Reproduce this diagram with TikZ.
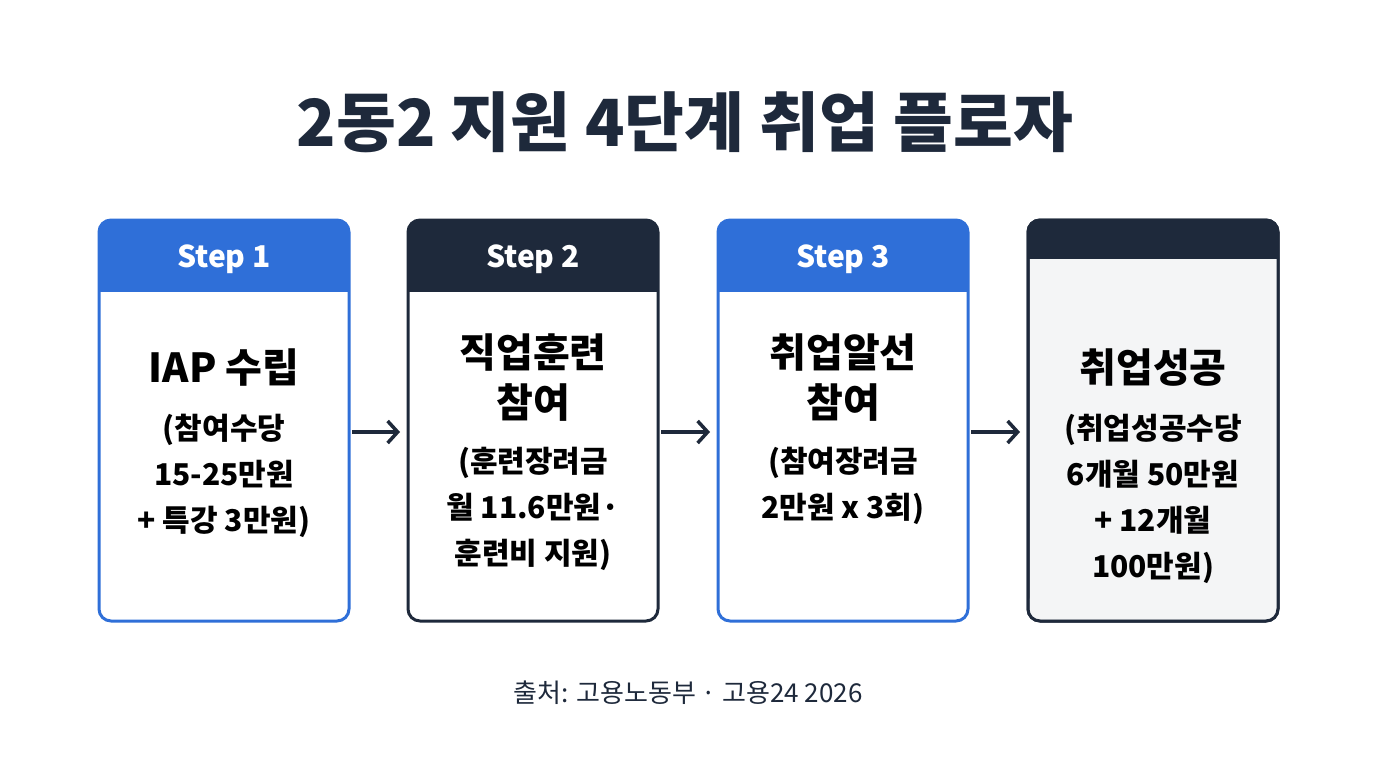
\documentclass[tikz,border=0pt]{standalone}
\usepackage{fontspec}
\setmainfont{Noto Sans CJK KR}
\usetikzlibrary{positioning,arrows.meta}
\definecolor{stepblue}{HTML}{2F6FD8}
\definecolor{stepdark}{HTML}{1E293B}
\definecolor{bodygray}{HTML}{F4F5F6}
\begin{document}
\begin{tikzpicture}[x=1pt,y=-1pt]
\tikzstyle{card}=[rounded corners=12pt, line width=3pt]
\tikzstyle{head}=[font=\fontsize{30}{30}\selectfont\bfseries, text=white]
\tikzstyle{main}=[font=\fontsize{40}{50}\selectfont\bfseries, text=black, align=center]
\tikzstyle{sub}=[font=\fontsize{30}{46}\selectfont\bfseries, text=black, align=center]
\tikzstyle{connect}=[-{Straight Barb[length=10pt,width=22pt,line width=3.5pt]}, line width=3.5pt, stepdark]
\useasboundingbox (0,0) rectangle (1376,768);
\fill[white] (0,0) rectangle (1376,768);
\node[font=\fontsize{65}{65}\selectfont\bfseries, text=stepdark] (title) at (685,122) {2동2 지원 4단계 취업 플로자};
% cards
\foreach \n/\x/\c/\h in {1/99/stepblue/292, 2/408/stepdark/292, 3/718/stepblue/292, 4/1028/stepdark/257}{
  \begin{scope}
  \clip[rounded corners=12pt] (\x,220) rectangle ++(250,401);
  \fill[\c] (\x,220) rectangle ++(250,\h-220);
  \end{scope}
  \draw[card, \c] (\x,220) rectangle ++(250,401);
  \coordinate (s\n) at (\x+125,259);
}
\fill[bodygray] (1029.5,257) rectangle (1276.5,608);
\fill[bodygray, rounded corners=10pt] (1029.5,590) rectangle (1276.5,619.5);
\draw[card, stepdark] (1028,220) rectangle ++(250,401);
\draw[stepdark, line width=3pt] (1028,257) -- (1278,257);
\node[head] (h1) at (s1) {Step 1};
\node[head] (h2) at (s2) {Step 2};
\node[head] (h3) at (s3) {Step 3};
% texts
\node[main] (m1) at (224,368) {IAP 수립};
\node[sub, below=20pt of m1] (t1) {(참여수당\\15-25만원\\+ 특강 3만원)};
\node[main] (m2) at (533,378) {직업훈련\\참여};
\node[sub, below=18pt of m2] (t2) {(훈련장려금\\월 11.6만원·\\훈련비 지원)};
\node[main] (m3) at (843,378) {취업알선\\참여};
\node[sub, below=18pt of m3] (t3) {(참여장려금\\2만원 x 3회)};
\node[main] (m4) at (1153,368) {취업성공};
\node[sub, below=20pt of m4] (t4) {(취업성공수당\\6개월 50만원\\+ 12개월\\100만원)};
% arrows
\coordinate (a1) at (352,432); \coordinate (b1) at (400,432);
\coordinate (a2) at (661,432); \coordinate (b2) at (710,432);
\coordinate (a3) at (971,432); \coordinate (b3) at (1020,432);
\draw[connect] (a1) -- (b1);
\draw[connect] (a2) -- (b2);
\draw[connect] (a3) -- (b3);
\node[font=\fontsize{26}{26}\selectfont, text=stepdark] (src) at (688,693) {출처: 고용노동부 · 고용24 2026};
\end{tikzpicture}
\end{document}
